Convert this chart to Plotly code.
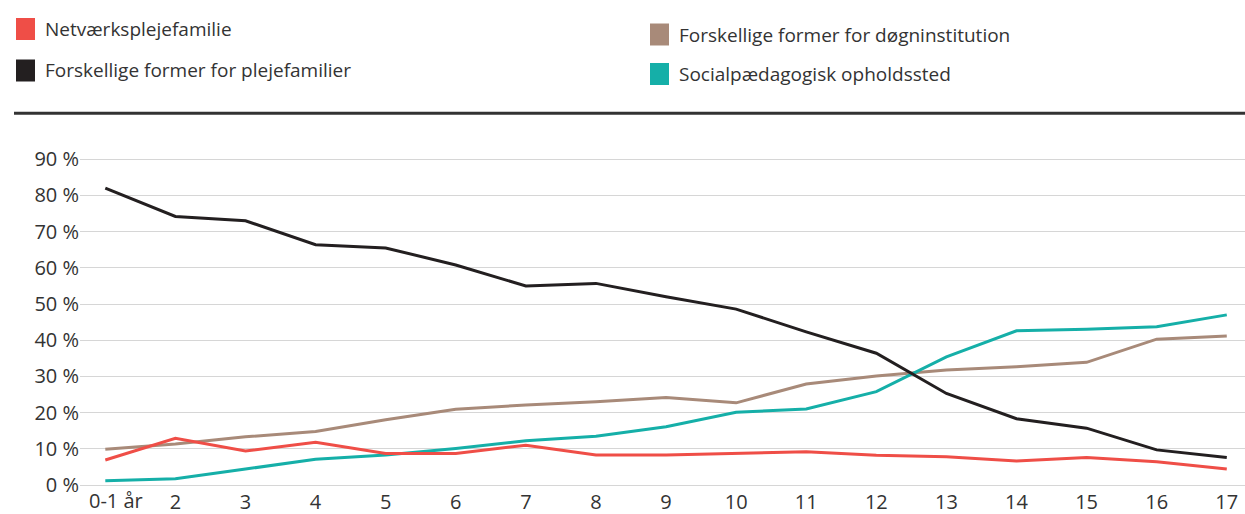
import plotly.graph_objects as go

ages = ["0-1 år", "2", "3", "4", "5", "6", "7", "8", "9", "10", "11", "12", "13", "14", "15", "16", "17"]
netvaerk = [6.9, 12.9, 9.4, 11.8, 8.7, 8.7, 11.0, 8.3, 8.3, 8.7, 9.2, 8.2, 7.8, 6.6, 7.6, 6.4, 4.4]
plejefamilier = [82.0, 74.2, 73.0, 66.4, 65.5, 60.8, 55.0, 55.7, 52.0, 48.6, 42.3, 36.4, 25.3, 18.3, 15.7, 9.7, 7.6]
doegninst = [9.9, 11.3, 13.3, 14.8, 18.0, 20.9, 22.1, 23.0, 24.2, 22.7, 27.9, 30.1, 31.8, 32.7, 33.9, 40.3, 41.2]
socialpaed = [1.2, 1.7, 4.4, 7.1, 8.3, 10.1, 12.2, 13.5, 16.1, 20.1, 21.0, 25.8, 35.4, 42.6, 43.0, 43.7, 47.0]

series_names = ["Netværksplejefamilie", "Forskellige former for plejefamilier",
                "Forskellige former for døgninstitution", "Socialpædagogisk opholdssted"]
series_vals = [netvaerk, plejefamilier, doegninst, socialpaed]
colors = ["#EF4E47", "#231F20", "#A88A79", "#15AFA8"]

y_ticks = [0, 10, 20, 30, 40, 50, 60, 70, 80, 90]
y_ticktext = [f"{v} %" for v in y_ticks]

W, H = 1245, 514
L, R, T, B = 80, 0, 150, 26
PW, PH = W - L - R, H - T - B

def px(x):
    return (x - L) / PW

def py(y):
    return (H - B - y) / PH

fig = go.Figure()
xs = list(range(len(ages)))
# draw order: brown, teal, black, red
for i in [2, 3, 1, 0]:
    fig.add_trace(go.Scatter(x=xs, y=series_vals[i], mode="lines", name=series_names[i],
                             line=dict(color=colors[i], width=3), showlegend=False,
                             hoverinfo="skip"))

font_family = "Open Sans, Noto Sans, sans-serif"
text_color = "#333333"

shapes = []
annotations = []
legend_pos = [(16, 18, 43, 29.5), (16, 59.5, 43, 70.5), (650, 23.5, 677, 34.5), (650, 63, 677, 74)]
for (sx, sy, tx, ty), name, c in zip(legend_pos, series_names, colors):
    shapes.append(dict(type="rect", xref="paper", yref="paper",
                       x0=px(sx), x1=px(sx + 19), y0=py(sy), y1=py(sy + 22),
                       fillcolor=c, line=dict(width=0)))
    annotations.append(dict(xref="paper", yref="paper", x=px(tx), y=py(ty), text=name,
                            showarrow=False, xanchor="left", yanchor="middle",
                            font=dict(family=font_family, size=19, color=text_color)))

shapes.append(dict(type="line", xref="paper", yref="paper", x0=px(14), x1=px(1245),
                   y0=py(113.3), y1=py(113.3), line=dict(color="#333333", width=3)))

# first category label drawn as annotation (sits slightly right of its point)
ticktext = [""] + ages[1:]
annotations.append(dict(xref="x", yref="paper", x=xs[0], y=py(500), text=ages[0],
                        showarrow=False, xanchor="center", yanchor="middle", xshift=11,
                        font=dict(family=font_family, size=20, color=text_color)))

fig.update_layout(
    width=W, height=H,
    margin=dict(l=L, r=R, t=T, b=B),
    paper_bgcolor="white", plot_bgcolor="white",
    shapes=shapes, annotations=annotations,
    font=dict(family=font_family, color=text_color, size=20),
    xaxis=dict(range=[-0.361, 16.26], tickmode="array", tickvals=xs, ticktext=ticktext,
               showgrid=False, zeroline=False, showline=False, ticks="",
               tickfont=dict(size=20, color=text_color)),
    yaxis=dict(range=[-0.83, 92.56], tickmode="array", tickvals=y_ticks, ticktext=y_ticktext,
               showgrid=True, gridcolor="#D6D6D6", gridwidth=1.3, zeroline=False,
               showline=False, ticks="", tickfont=dict(size=20, color=text_color)),
)

fig.write_html("out.html", config={"displayModeBar": False},
               post_script="document.body.style.margin='0';document.body.style.overflow='hidden';")
